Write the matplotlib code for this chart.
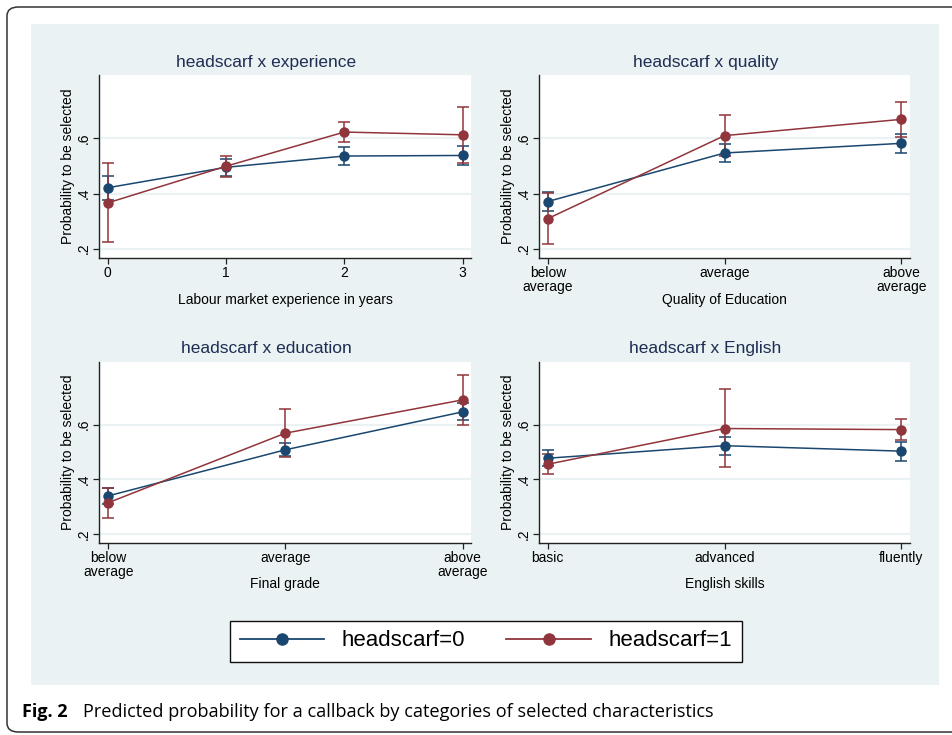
import matplotlib
matplotlib.use("Agg")
import matplotlib.pyplot as plt
from matplotlib.patches import Rectangle, FancyBboxPatch
from matplotlib.lines import Line2D

plt.rcParams['font.family'] = ['Liberation Sans', 'DejaVu Sans']

NAVY = "#1a476f"
MAROON = "#90353b"
BG = "#eaf2f3"
TITLE_C = "#1e2d53"

# ---- data (estimate, lo, hi) ----
exp_x = [0, 1, 2, 3]
exp_ticks = ["0", "1", "2", "3"]
exp_h0 = [0.421, 0.495, 0.536, 0.538]
exp_h0_lo = [0.378, 0.462, 0.504, 0.502]
exp_h0_hi = [0.463, 0.527, 0.567, 0.571]
exp_h1 = [0.366, 0.499, 0.623, 0.613]
exp_h1_lo = [0.223, 0.461, 0.587, 0.510]
exp_h1_hi = [0.509, 0.537, 0.659, 0.714]

qual_ticks = ["below\naverage", "average", "above\naverage"]
qual_h0 = [0.371, 0.547, 0.582]
qual_h0_lo = [0.335, 0.515, 0.547]
qual_h0_hi = [0.407, 0.578, 0.617]
qual_h1 = [0.309, 0.610, 0.669]
qual_h1_lo = [0.217, 0.535, 0.605]
qual_h1_hi = [0.401, 0.685, 0.733]

edu_ticks = ["below\naverage", "average", "above\naverage"]
edu_h0 = [0.339, 0.508, 0.647]
edu_h0_lo = [0.309, 0.484, 0.617]
edu_h0_hi = [0.369, 0.532, 0.680]
edu_h1 = [0.314, 0.569, 0.691]
edu_h1_lo = [0.259, 0.482, 0.599]
edu_h1_hi = [0.367, 0.656, 0.784]

eng_ticks = ["basic", "advanced", "fluently"]
eng_h0 = [0.477, 0.523, 0.503]
eng_h0_lo = [0.447, 0.490, 0.468]
eng_h0_hi = [0.507, 0.554, 0.536]
eng_h1 = [0.455, 0.586, 0.582]
eng_h1_lo = [0.418, 0.443, 0.543]
eng_h1_hi = [0.492, 0.731, 0.621]

W, H = 952, 735
fig = plt.figure(figsize=(W / 100, H / 100), dpi=100)
fig.patch.set_facecolor("white")

def fbox(l, t, r, b):
    return [l / W, 1 - b / H, (r - l) / W, (b - t) / H]

# outer frame and Stata graph region (behind the axes)
fig.patches.append(FancyBboxPatch((7 / W, 3 / H), 1.2, (735 - 7 - 3) / H,
                                  boxstyle="round,pad=0,rounding_size=0.012",
                                  transform=fig.transFigure, fill=False,
                                  ec="#333333", lw=1.1, zorder=-2))
fig.patches.append(Rectangle((31 / W, 1 - 685 / H), (939 - 31) / W, (685 - 24) / H,
                             transform=fig.transFigure, fc=BG, ec="none", zorder=-1))

def panel(box, title, ticks, xlabel, h0, h0lo, h0hi, h1, h1lo, h1hi, xlim):
    ax = fig.add_axes(fbox(*box))
    ax.set_facecolor("white")
    x = list(range(len(ticks)))
    for y, lo, hi, c in [(h0, h0lo, h0hi, NAVY), (h1, h1lo, h1hi, MAROON)]:
        err = [[a - b for a, b in zip(y, lo)], [b - a for a, b in zip(y, hi)]]
        ax.errorbar(x, y, yerr=err, fmt="none", ecolor=c, elinewidth=1.1,
                    capsize=4, capthick=1.1, zorder=3)
    for y, c in [(h0, NAVY), (h1, MAROON)]:
        ax.plot(x, y, color=c, lw=1.1, marker="o", ms=6.5, mfc=c, mec=c, zorder=4)
    ax.set_ylim(0.166, 0.830)
    ax.set_xlim(*xlim)
    ax.set_yticks([0.2, 0.4, 0.6])
    ax.set_yticklabels([".2", ".4", ".6"], rotation=90, va="center")
    ax.set_xticks(x)
    ax.set_xticklabels(ticks, linespacing=0.95)
    for yy in [0.2, 0.4, 0.6]:
        ax.axhline(yy, color=BG, lw=1.6, zorder=1)
    for s in ["top", "right"]:
        ax.spines[s].set_visible(False)
    for s in ["left", "bottom"]:
        ax.spines[s].set_color("#222222")
        ax.spines[s].set_linewidth(1.0)
    ax.tick_params(direction="out", length=4, width=0.9, color="#222222",
                   labelsize=10, pad=2)
    ax.set_ylabel("Probability to be selected", fontsize=10)
    ax.yaxis.label.set_va("center")
    ax.yaxis.set_label_coords(-31 / (box[2] - box[0]), 0.5)
    ax.set_xlabel(xlabel, fontsize=10)
    ax.xaxis.label.set_va("center")
    ax.xaxis.set_label_coords(0.5, -0.228)
    # Stata centres the title on the whole panel, a bit left of the plot area
    ax.text(0.5 - 19 / (box[2] - box[0]), 1 + 13 / (box[3] - box[1]), title,
            transform=ax.transAxes, ha="center", va="center", fontsize=12.5,
            color=TITLE_C)
    return ax

panel((99, 75, 471, 258), "headscarf x experience", exp_ticks,
      "Labour market experience in years",
      exp_h0, exp_h0_lo, exp_h0_hi, exp_h1, exp_h1_lo, exp_h1_hi, (-0.074, 3.071))
panel((539, 75, 910, 258), "headscarf x quality", qual_ticks,
      "Quality of Education",
      qual_h0, qual_h0_lo, qual_h0_hi, qual_h1, qual_h1_lo, qual_h1_hi, (-0.05, 2.05))
panel((99, 362, 471, 543), "headscarf x education", edu_ticks,
      "Final grade",
      edu_h0, edu_h0_lo, edu_h0_hi, edu_h1, edu_h1_lo, edu_h1_hi, (-0.053, 2.048))
panel((539, 362, 910, 543), "headscarf x English", eng_ticks,
      "English skills",
      eng_h0, eng_h0_lo, eng_h0_hi, eng_h1, eng_h1_lo, eng_h1_hi, (-0.05, 2.05))

# legend
handles = [Line2D([], [], color=NAVY, lw=1.3, marker="o", ms=8),
           Line2D([], [], color=MAROON, lw=1.3, marker="o", ms=8)]
leg = fig.legend(handles, ["headscarf=0", "headscarf=1"], loc="center",
                 bbox_to_anchor=(486 / W, 1 - 641 / H), ncol=2, fontsize=16,
                 frameon=True, fancybox=False, edgecolor="#111111", framealpha=1,
                 handlelength=3.8, handletextpad=0.8, columnspacing=1.85,
                 borderpad=0.45)
leg.get_frame().set_linewidth(1.0)

# caption
fig.text(22 / W, 1 - 712 / H, "Fig. 2", fontsize=13, fontweight="bold",
         family=["Open Sans", "DejaVu Sans"], va="center", ha="left")
fig.text(83 / W, 1 - 712 / H,
         "Predicted probability for a callback by categories of selected characteristics",
         fontsize=13.05, family=["Open Sans", "DejaVu Sans"], va="center", ha="left")

fig.savefig("out.png", dpi=100)
